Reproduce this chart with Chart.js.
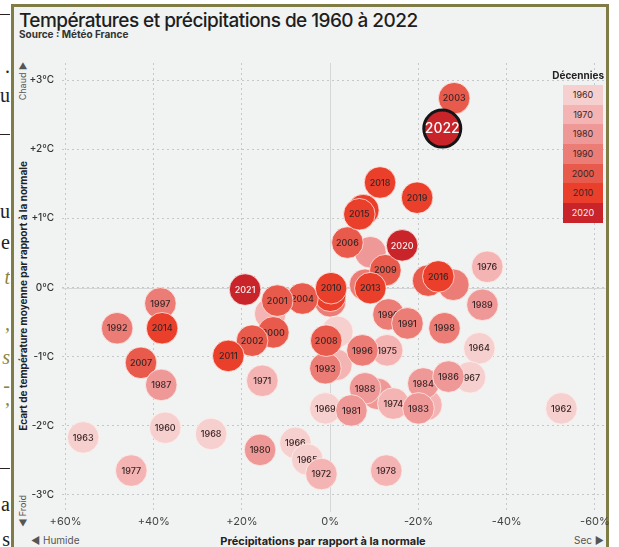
<!DOCTYPE html>
<html lang="fr">
<head>
<meta charset="utf-8">
<script src="https://cdn.jsdelivr.net/npm/chart.js@4.4.1/dist/chart.umd.min.js"></script>
<style>
  html, body { margin: 0; padding: 0; background: #fff; }
  body { width: 619px; height: 547px; position: relative; overflow: hidden; font-family: Inter, "Noto Sans", sans-serif; color: #222; }
  #frame { position: absolute; left: 11px; top: 4px; width: 592px; height: 600px; border: 3px solid #7f7c45; background: #f1f2f2; }
  #chart { position: absolute; left: 0; top: 0; }
  .abs { position: absolute; white-space: nowrap; }
  #title { left: 19px; top: 9px; font-size: 19px; font-weight: 500; letter-spacing: -0.55px; color: #1e1e1e; }
  #source { left: 19px; top: 28px; font-size: 10px; font-weight: 700; color: #333; }
  .rot { transform: translate(-50%, -50%) rotate(-90deg); }
  #ytitle { left: 23px; top: 296px; font-size: 10px; font-weight: 700; color: #222; }
  #chaud { left: 22px; top: 81px; font-size: 9px; color: #555; }
  #froid { left: 22px; top: 511px; font-size: 9px; color: #555; }
  #xtitle { left: 323px; top: 541px; transform: translate(-50%, -50%); font-size: 11px; font-weight: 700; color: #222; }
  #humide { left: 31px; top: 534px; font-size: 10px; color: #555; }
  #sec { right: 15px; top: 534px; font-size: 10px; color: #555; }
  #legtitle { right: 15px; top: 69px; font-size: 10px; font-weight: 700; color: #222; }
  #legend { left: 563px; top: 85px; width: 40px; }
  #legend div { height: 19.7px; line-height: 19.7px; text-align: center; font-size: 9px; color: #3b2626; }
  #edge { position: absolute; left: 0; top: 0; width: 10px; height: 547px; overflow: hidden; }
  #edge span { position: absolute; right: 0; font-family: "Liberation Serif", serif; font-size: 20px; line-height: 20px; color: #222; }
  #edge span.ol { color: #8a8440; font-style: italic; }
</style>
</head>
<body>
<div id="edge"></div>
<div id="frame"></div>
<div id="title" class="abs">Températures et précipitations de 1960 à 2022</div>
<div id="source" class="abs">Source : Météo France</div>
<div id="ytitle" class="abs rot">Ecart de température moyenne par rapport à la normale</div>
<div id="chaud" class="abs rot">Chaud ▶</div>
<div id="froid" class="abs rot">◀ Froid</div>
<div id="xtitle" class="abs">Précipitations par rapport à la normale</div>
<div id="humide" class="abs">◀ Humide</div>
<div id="sec" class="abs">Sec ▶</div>
<!-- a bit wider than the page: chart.js keeps extra room right of the last x label -->
<canvas id="chart" width="627" height="547"></canvas>
<div id="legtitle" class="abs">Décennies</div>
<div id="legend" class="abs"></div>
<script>
// Years in drawing order (first ones end up underneath)
const years = [
  1970, 1994, 2012, 1961, 1979, 1982, 1985, 1995, 1999, 2005, 1973, 2017,
  1963, 1977, 1960, 1968, 1980, 1966, 1965, 1972, 1978, 1962,
  1992, 1997, 2014, 2007, 1987, 1971, 2000, 2002, 2011, 2021,
  2009, 2004, 2001, 2010, 2013, 1993, 2008, 1975, 1996, 1990, 1991,
  1998, 1989, 1964, 1976, 2006, 2020, 2016, 2015, 2018, 2019, 2003, 2022,
  1969, 1988, 1981, 1974, 1984, 1983, 1967, 1986
];
// Précipitations par rapport à la normale (%)
const precip = [
  13.6, 0.0, 0.0, -1.6, -1.4, -10.7, -9.1, -7.9, -27.9, -22.2, -21.8, -7.5,
  56.0, 45.1, 37.4, 27.0, 15.9, 7.9, 5.2, 2.0, -12.7, -52.4,
  48.3, 38.5, 38.1, 42.9, 38.3, 15.4, 12.9, 17.7, 23.1, 19.3,
  -12.5, 6.3, 12.0, -0.2, -9.1, 1.1, 0.9, -12.9, -7.3, -13.2, -17.5,
  -25.9, -34.5, -33.8, -35.6, -3.9, -16.3, -24.5, -6.6, -11.3, -19.7, -28.1, -25.4,
  1.1, -7.9, -4.8, -14.3, -21.1, -20.0, -31.7, -26.8
];
// Ecart de température moyenne (°C)
const temp = [
  -0.38, -0.20, -0.12, -0.64, -1.12, -1.54, 0.51, 0.04, 0.04, 0.10, -1.70, 1.12,
  -2.17, -2.65, -2.03, -2.12, -2.35, -2.25, -2.49, -2.70, -2.65, -1.75,
  -0.59, -0.23, -0.59, -1.09, -1.41, -1.35, -0.65, -0.77, -0.99, -0.03,
  0.25, -0.16, -0.19, -0.01, -0.01, -1.17, -0.77, -0.91, -0.91, -0.39, -0.52,
  -0.59, -0.25, -0.88, 0.30, 0.65, 0.61, 0.16, 1.06, 1.52, 1.30, 2.74, 2.30,
  -1.75, -1.46, -1.78, -1.68, -1.39, -1.75, -1.30, -1.29
];
// bubbles whose label is covered in the picture
const unlabelled = [1970, 1994, 2012, 1961, 1979, 1982, 1985, 1995, 1999, 2005, 1973, 2017];
const highlightYear = 2022;

const decades = [1960, 1970, 1980, 1990, 2000, 2010, 2020];
const decadeColors = ["#f6d0cf", "#f3b4b3", "#ee9897", "#eb7c76", "#e85a4b", "#e93f2b", "#c8242a"];

const xTicks = [60, 40, 20, 0, -20, -40, -60];
const xTickLabels = ["+60%", "+40%", "+20%", "0%", "-20%", "-40%", "-60%"];
const yTicks = [3, 2, 1, 0, -1, -2, -3];
const yTickLabels = ["+3°C", "+2°C", "+1°C", "0°C", "-1°C", "-2°C", "-3°C"];

// page fragments cut off on the left edge
const edgeBits = [
  ["–", 3, ""], [".", 56, ""], ["u", 85, ""], ["–", 123, ""], ["u", 201, ""], ["e", 232, ""],
  ["t", 267, "ol"], [",", 313, "ol"], ["s", 347, "ol"], ["-", 375, "ol"], [",", 388, "ol"],
  ["–", 457, ""], ["a", 494, ""], ["s", 529, ""]
];
const edge = document.getElementById("edge");
edgeBits.forEach(([t, top, cls]) => {
  const s = document.createElement("span");
  s.textContent = t;
  s.style.top = top + "px";
  if (cls) s.className = cls;
  edge.appendChild(s);
});

const colorOf = y => decadeColors[decades.indexOf(Math.floor(y / 10) * 10)];

// legend ramp
const legend = document.getElementById("legend");
decades.forEach((d, i) => {
  const el = document.createElement("div");
  el.textContent = d;
  el.style.background = decadeColors[i];
  if (d >= 2020) el.style.color = "#fbeeee";
  legend.appendChild(el);
});

// one dataset per year so that every label sits with its own bubble
const datasets = years.map((yr, i) => {
  const big = yr === highlightYear;
  return {
    label: String(yr),
    data: [{ x: precip[i], y: temp[i], r: big ? 18.5 : 15.8 }],
    backgroundColor: colorOf(yr),
    borderColor: big ? "#151515" : "rgba(255,240,235,0.75)",
    borderWidth: big ? 3 : 1
  };
}).reverse(); // chart.js paints dataset 0 last

const yearLabels = {
  id: "yearLabels",
  afterDatasetDraw(chart, args) {
    const yr = Number(chart.data.datasets[args.index].label);
    if (unlabelled.includes(yr)) return;
    const pt = args.meta.data[0];
    const ctx = chart.ctx;
    ctx.save();
    ctx.textAlign = "center";
    ctx.textBaseline = "middle";
    if (yr === highlightYear) {
      ctx.font = "500 14px Inter";
      ctx.fillStyle = "#fff";
    } else {
      ctx.font = "500 9px Inter";
      ctx.fillStyle = yr >= 2020 ? "#fbeeee" : "#3b2626";
    }
    ctx.fillText(yr, pt.x, pt.y + 0.5);
    ctx.restore();
  }
};

// the zero lines are solid, the rest of the grid is dotted
const zeroLines = {
  id: "zeroLines",
  beforeDatasetsDraw(chart) {
    const { ctx, chartArea: a, scales } = chart;
    const x0 = scales.x.getPixelForValue(0);
    const y0 = scales.y.getPixelForValue(0);
    ctx.save();
    ctx.strokeStyle = "#d3d5d6";
    ctx.lineWidth = 1;
    ctx.beginPath();
    ctx.moveTo(Math.round(x0) + 0.5, a.top);
    ctx.lineTo(Math.round(x0) + 0.5, a.bottom);
    ctx.moveTo(a.left, Math.round(y0) + 0.5);
    ctx.lineTo(a.right, Math.round(y0) + 0.5);
    ctx.stroke();
    ctx.restore();
  }
};

new Chart(document.getElementById("chart"), {
  type: "bubble",
  data: { datasets },
  options: {
    responsive: false,
    animation: false,
    events: [],
    layout: { padding: { left: 22, right: 7.5, top: 63, bottom: 15 } },
    plugins: { legend: { display: false }, tooltip: { enabled: false } },
    scales: {
      x: {
        type: "linear",
        reverse: true,
        min: -62.4,
        max: 60.8,
        afterBuildTicks: s => { s.ticks = xTicks.map(v => ({ value: v })); },
        afterFit: s => { s.height = 20; s.paddingLeft = 0; s.paddingRight = 0; },
        ticks: {
          callback: v => xTickLabels[xTicks.indexOf(v)],
          color: "#444",
          font: { family: "Inter", size: 11 },
          padding: 3,
          maxRotation: 0,
          autoSkip: false
        },
        grid: { color: "#c5c7c8", drawTicks: false },
        border: { display: false, dash: [2, 3] }
      },
      y: {
        type: "linear",
        min: -3.25,
        max: 3.25,
        afterBuildTicks: s => { s.ticks = yTicks.map(v => ({ value: v })); },
        afterFit: s => { s.width = 40; s.paddingTop = 0; s.paddingBottom = 0; },
        ticks: {
          callback: v => yTickLabels[yTicks.indexOf(v)],
          color: "#333",
          font: { family: "Inter", size: 10, weight: "500" },
          padding: 8,
          autoSkip: false
        },
        grid: { color: "#c5c7c8", drawTicks: false },
        border: { display: false, dash: [2, 3] }
      }
    }
  },
  plugins: [zeroLines, yearLabels]
});
</script>
</body>
</html>
